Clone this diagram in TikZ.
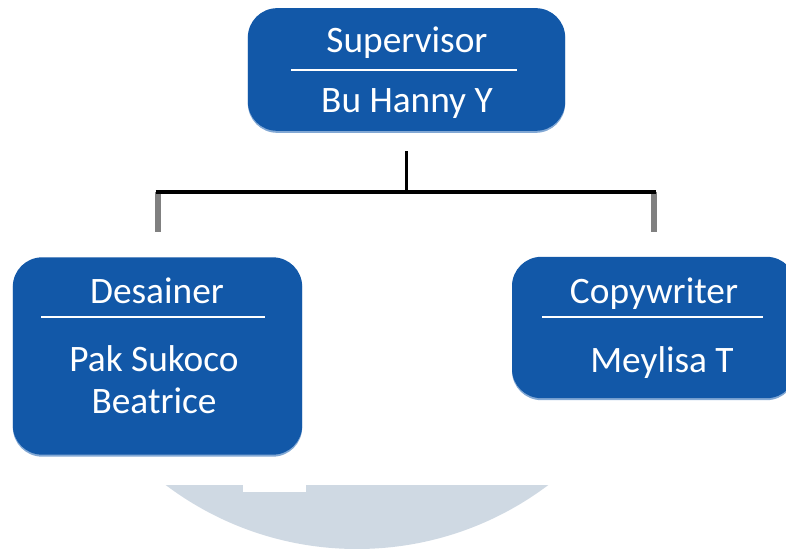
\documentclass[tikz,border=0pt]{standalone}
\usepackage{fontspec}
\setmainfont{Carlito}
\usepackage{tikz}
\usetikzlibrary{positioning, calc}
\usepackage{xcolor}
\definecolor{cBox}{RGB}{18,88,168}
\definecolor{cEdge}{RGB}{130,168,212}
\definecolor{cDrop}{RGB}{128,128,128}
\definecolor{cDisc}{RGB}{207,217,227}
\tikzset{
  rolebox/.style={rectangle, rounded corners=22pt, fill=cBox, draw=none,
                  preaction={fill=cEdge, transform canvas={yshift=-1.5pt}}},
  roletext/.style={text=white, anchor=base, inner sep=0pt,
                   font=\fontsize{28}{31}\selectfont, align=center},
  sepline/.style={draw=white, line width=1.5pt},
  tree/.style={draw=black, line width=2.3pt},
  droparm/.style={draw=cDrop, line width=4.5pt}
}
\begin{document}
\begin{tikzpicture}[x=0.75pt, y=-0.75pt]

  \useasboundingbox (0,0) rectangle (786,549);

  % Background disc
  \begin{scope}
    \clip (0,485) rectangle (786,549);
    \fill[cDisc] (357,231) circle[radius=318];
    \fill[white] (243,484) rectangle (306,492);
  \end{scope}

  % Supervisor
  \node[rolebox, minimum width=238pt, minimum height=92pt] (sup) at (406.5,69.5) {};
  \node[roletext] (supT) at (407,53) {Supervisor};
  \node[roletext] (supN) at (407,113) {Bu Hanny Y};
  \draw[sepline] (291,70) -- (517,70);

  % Desainer
  \node[rolebox, minimum width=217pt, minimum height=148pt] (des) at (157.5,356) {};
  \node[roletext] (desT) at (157,303) {Desainer};
  \node[roletext] (desN) at (154,413) {Pak Sukoco\\Beatrice};
  \draw[sepline] (41,317) -- (265,317);

  % Copywriter
  \node[rolebox, minimum width=213pt, minimum height=106pt] (cpy) at (654,327.5) {};
  \node[roletext] (cpyT) at (654,304) {Copywriter};
  \node[roletext] (cpyN) at (662,372) {Meylisa T};
  \draw[sepline] (542,317) -- (763,317);

  % Connectors
  \coordinate (jn) at (sup.south |- 0,192);
  \coordinate (jl) at (des.north |- 0,192);
  \coordinate (jr) at (cpy.north |- 0,192);
  \draw[droparm] (jl) -- ([yshift=18.75pt]des.north);
  \draw[droparm] (jr) -- ([yshift=18.75pt]cpy.north);
  \draw[tree] ([yshift=-15pt]sup.south) -- (jn);
  \draw[tree] ([xshift=-1.5pt]jl) -- ([xshift=1.5pt]jr);

\end{tikzpicture}
\end{document}
